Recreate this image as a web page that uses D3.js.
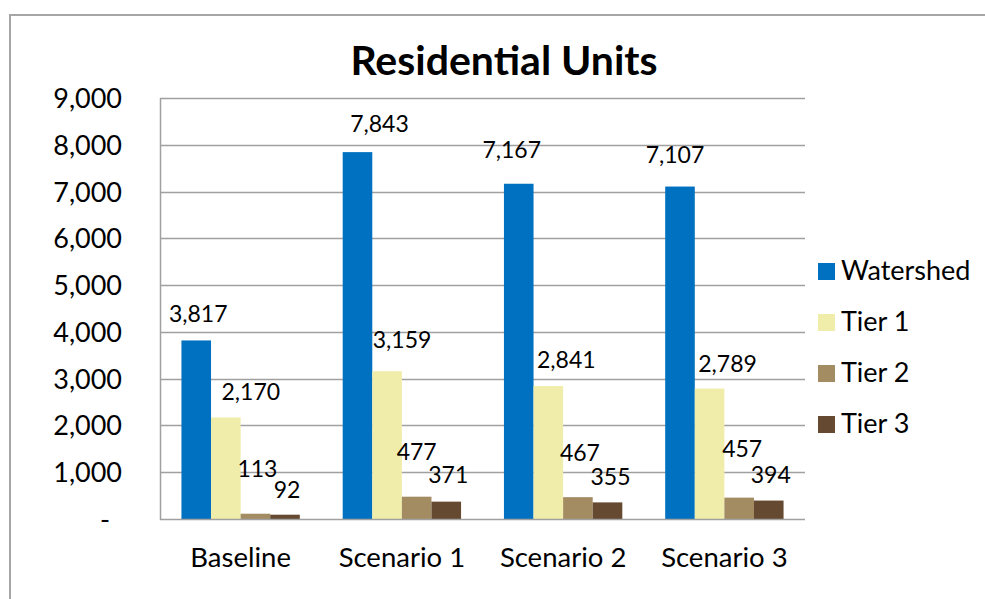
<!DOCTYPE html>
<html>
<head>
<meta charset="utf-8">
<script src="https://cdn.jsdelivr.net/npm/d3@7"></script>
<style>
  html, body { margin: 0; padding: 0; background: #fff; }
  svg { display: block; }
  text { font-family: Calibri, Carlito, Lato, "Open Sans", sans-serif; fill: #000; }
</style>
</head>
<body>
<svg id="chart" width="985" height="599"></svg>
<script>
// Residential units by scenario and tier
const categories = ["Baseline", "Scenario 1", "Scenario 2", "Scenario 3"];
const seriesNames = ["Watershed", "Tier 1", "Tier 2", "Tier 3"];
const watershed = [3817, 7843, 7167, 7107];
const tier1 = [2170, 3159, 2841, 2789];
const tier2 = [113, 477, 467, 457];
const tier3 = [92, 371, 355, 394];
const yTicks = [0, 1000, 2000, 3000, 4000, 5000, 6000, 7000, 8000, 9000];

// Label nudges (dx, dy) from the default spot above each bar
const labelDx = [[2, 22, -7, -5], [25, 15, 18, 18], [2, 0, 2, 3], [2, 2, 3, 2]];
const labelDy = [[-18, -20, -26, -24], [-17, -23, -18, -17], [-37, -37, -36, -41], [-17, -19, -17, -18]];

const seriesValues = [watershed, tier1, tier2, tier3];
const colors = ["#0070C0", "#EFEDA9", "#A48C62", "#654930"];

const svg = d3.select("#chart");

// Outer frame of the chart area
svg.append("path")
  .attr("d", "M10,600 V15 H986")
  .attr("fill", "none")
  .attr("stroke", "#a6a6a6")
  .attr("stroke-width", 2);

const plot = { left: 160, right: 805, top: 98, bottom: 519 };

const x0 = d3.scaleBand()
  .domain(categories)
  .range([plot.left, plot.right])
  .paddingInner(0.266)
  .paddingOuter(0.133);

const x1 = d3.scaleBand()
  .domain(seriesNames)
  .range([0, x0.bandwidth()]);

const y = d3.scaleLinear()
  .domain([0, 9000])
  .range([plot.bottom, plot.top]);

// Horizontal gridlines
svg.append("g")
  .selectAll("line")
  .data(yTicks.filter(d => d > 0))
  .join("line")
  .attr("x1", plot.left)
  .attr("x2", plot.right)
  .attr("y1", d => Math.round(y(d)) + 0.5)
  .attr("y2", d => Math.round(y(d)) + 0.5)
  .attr("stroke", "#a0a0a0")
  .attr("stroke-width", 1.5);

// Y axis labels
const fmt = d3.format(",");
const yAxis = d3.axisLeft(y)
  .tickValues(yTicks)
  .tickSize(0)
  .tickPadding(0)
  .tickFormat(d => d === 0 ? "-" : fmt(d));

const yG = svg.append("g")
  .attr("transform", `translate(${plot.left - 38},0)`)
  .call(yAxis);
yG.select(".domain").remove();
yG.selectAll("text")
  .attr("font-size", 27)
  .attr("dy", "0.35em")
  .style("font-family", "Lato, sans-serif");
yG.selectAll(".tick")
  .filter(d => d === 0)
  .select("text")
  .attr("dx", -12);

// Bars
const groups = svg.append("g")
  .selectAll("g")
  .data(categories)
  .join("g")
  .attr("transform", d => `translate(${x0(d)},0)`);

groups.selectAll("rect")
  .data((c, ci) => seriesNames.map((s, si) => ({ s, si, ci, v: seriesValues[si][ci] })))
  .join("rect")
  .attr("x", d => x1(d.s))
  .attr("width", x1.bandwidth())
  .attr("y", d => y(d.v))
  .attr("height", d => y(0) - y(d.v))
  .attr("fill", d => colors[d.si]);

// Value labels
groups.selectAll("text.value")
  .data((c, ci) => seriesNames.map((s, si) => ({ s, si, ci, v: seriesValues[si][ci] })))
  .join("text")
  .attr("class", "value")
  .attr("x", d => x1(d.s) + x1.bandwidth() / 2 + labelDx[d.si][d.ci])
  .attr("y", d => y(d.v) + labelDy[d.si][d.ci])
  .attr("text-anchor", "middle")
  .attr("font-size", 23)
  .style("font-family", "Lato, sans-serif")
  .text(d => fmt(d.v));

// Axis frame: left and bottom lines
svg.append("path")
  .attr("d", `M${plot.left + 0.5},${plot.top} V${plot.bottom + 0.5} H${plot.right}`)
  .attr("fill", "none")
  .attr("stroke", "#a0a0a0")
  .attr("stroke-width", 1.5);

// Category labels
svg.append("g")
  .selectAll("text")
  .data(categories)
  .join("text")
  .attr("x", d => x0(d) + x0.bandwidth() / 2)
  .attr("y", 567)
  .attr("text-anchor", "middle")
  .attr("font-size", 27.5)
  .style("font-family", "Lato, sans-serif")
  .text(d => d);

// Title
svg.append("text")
  .attr("x", 504)
  .attr("y", 75)
  .attr("text-anchor", "middle")
  .attr("font-size", 41)
  .attr("font-weight", "bold")
  .style("font-family", "Lato, sans-serif")
  .text("Residential Units");

// Legend
const legend = svg.append("g")
  .selectAll("g")
  .data(seriesNames)
  .join("g")
  .attr("transform", (d, i) => `translate(818,${271 + i * 51})`);

legend.append("rect")
  .attr("x", 0)
  .attr("y", -8)
  .attr("width", 17)
  .attr("height", 17)
  .attr("fill", (d, i) => colors[i]);

legend.append("text")
  .attr("x", 23)
  .attr("y", 0)
  .attr("dy", "0.35em")
  .attr("font-size", 27)
  .style("font-family", "Lato, sans-serif")
  .text(d => d);
</script>
</body>
</html>
